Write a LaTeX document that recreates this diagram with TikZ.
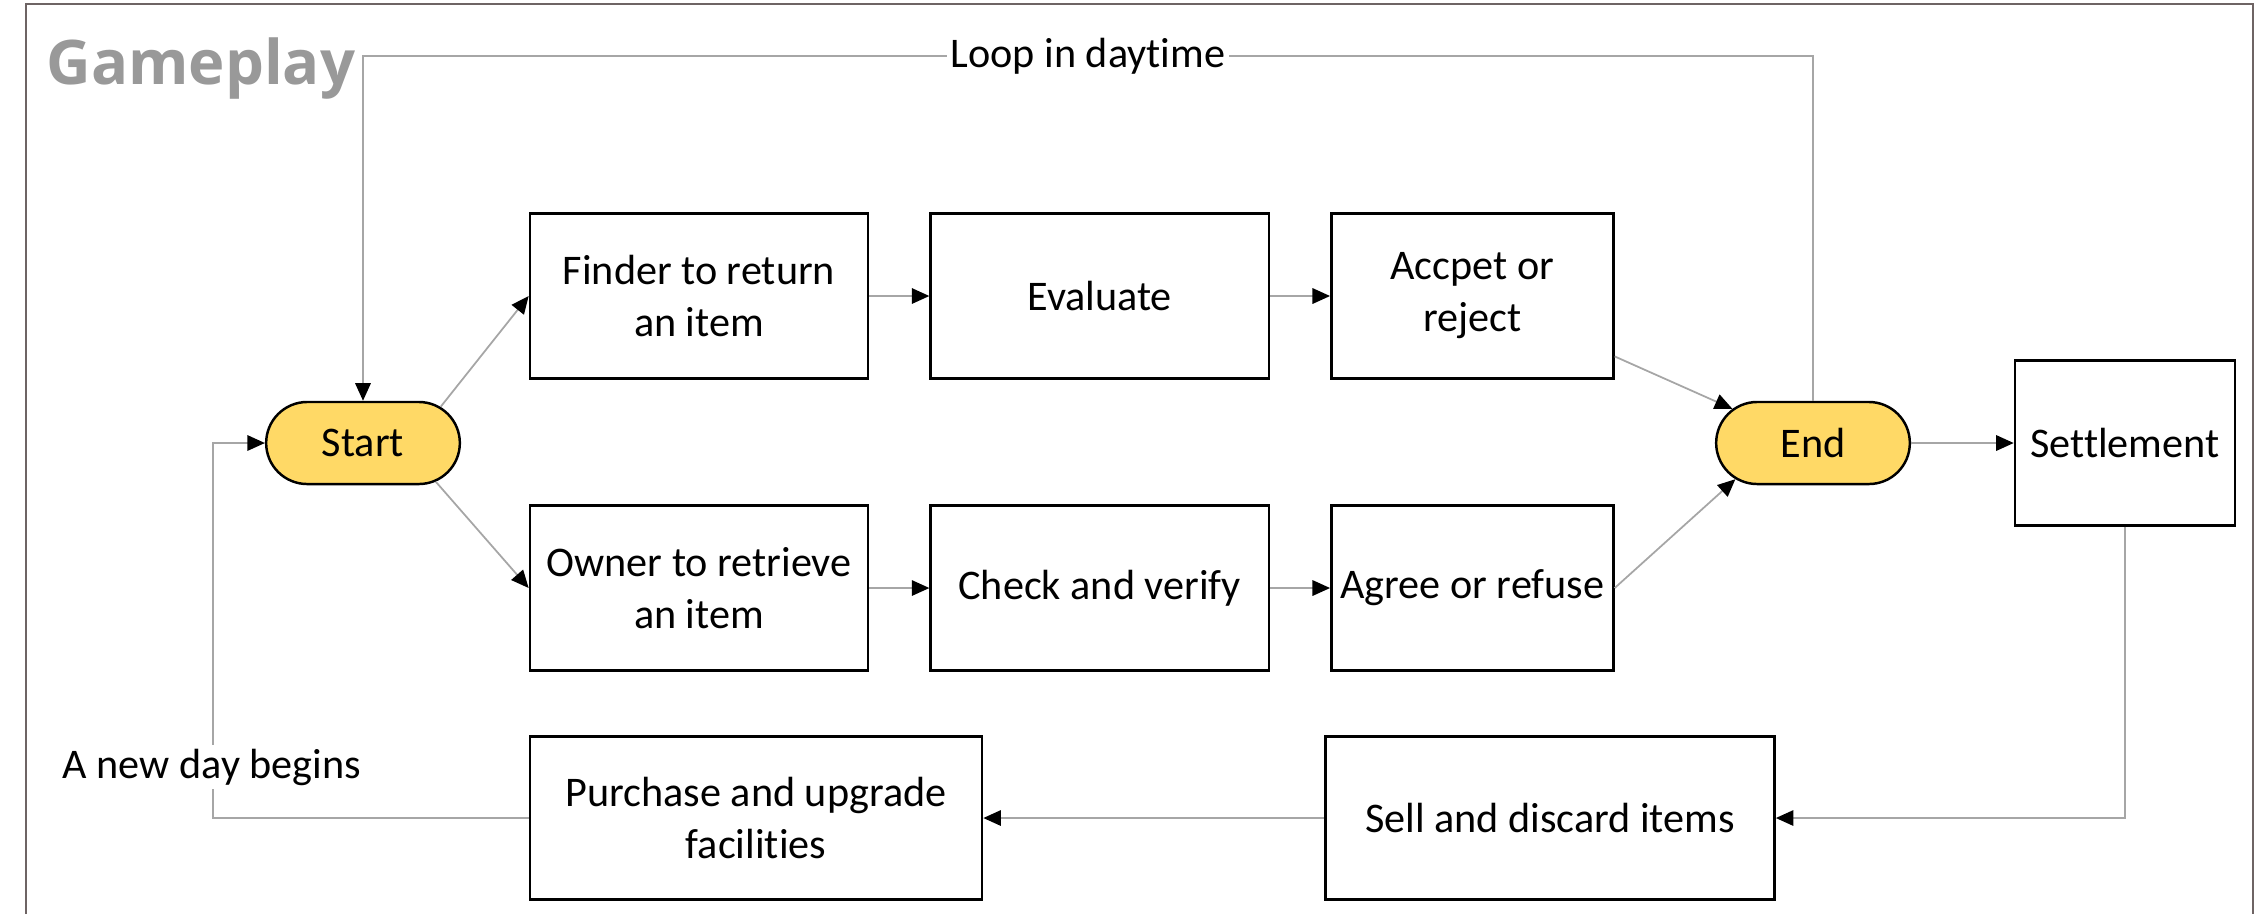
\documentclass[tikz,border=0pt]{standalone}
\usepackage{fontspec}
\setmainfont{Carlito}[Ligatures=NoCommon]
\newfontfamily\titlefont{Open Sans}
\usetikzlibrary{positioning}
\usetikzlibrary{shapes.misc}
\usetikzlibrary{arrows.meta}
\definecolor{startyellow}{HTML}{FFD966}
\definecolor{linegray}{HTML}{A6A6A6}
\definecolor{titlegray}{HTML}{999999}
\definecolor{framegray}{HTML}{6E6464}

\begin{document}
\begin{tikzpicture}[x=0.01cm,y=-0.01cm,node distance=0.6cm,font=\fontsize{12}{14.8}\selectfont]
  \tikzstyle{terminal}=[rounded rectangle, draw=black, line width=0.7pt, fill=startyellow, minimum width=2.17cm, minimum height=0.82cm ]
  \tikzstyle{process}=[rectangle, draw=black, line width=0.7pt, align=center, inner sep=2pt, minimum width=3.38cm, minimum height=1.65cm ]
  \tikzstyle{flow}=[draw=linegray, line width=0.5pt, -{Triangle[color=black,length=5pt,width=4.4pt]} ]
  \tikzstyle{loopnote}=[fill=white, inner sep=1pt ]

  \useasboundingbox (0,0) rectangle (2257,914);
  \draw[framegray, line width=0.6pt] (26,914) -- (26,4) -- (2253,4) -- (2253,914);
  \node[anchor=base west, inner sep=0pt, text=titlegray, font=\titlefont\bfseries\fontsize{17.5}{21}\selectfont] (title) at (46,84) {Gameplay};

  \node[terminal]                                  (start)    at (363,443)  {Start};
  \node[process]                                   (finder)   at (699,296)  {Finder to return\\an item};
  \node[process, right=of finder]                  (evaluate)               {Evaluate};
  \node[process, minimum width=2.82cm, right=of evaluate] (accept)          {Accpet or\\reject};
  \node[process]                                   (owner)    at (699,588)  {Owner to retrieve\\an item};
  \node[process, right=of owner]                   (check)                  {Check and verify};
  \node[process, minimum width=2.82cm, right=of check]    (agree)           {Agree or refuse};
  \node[terminal]                                  (end)      at (1813,443) {End};
  \node[process, minimum width=2.2cm]              (settle)   at (2125,443) {Settlement};
  \node[process, minimum width=4.49cm, minimum height=1.63cm] (sell)     at (1550,818) {Sell and discard items};
  \node[process, minimum width=4.52cm, minimum height=1.63cm] (purchase) at (756,818)  {Purchase and upgrade\\facilities};

  \coordinate (dayturn) at (213,443);

  \draw[flow] (start.25) -- (finder.west);
  \draw[flow] (start.-28) -- (owner.west);
  \draw[flow] (finder) -- (evaluate);
  \draw[flow] (evaluate) -- (accept);
  \draw[flow] (owner) -- (check);
  \draw[flow] (check) -- (agree);
  \draw[flow] (accept.-23) -- (end.157);
  \draw[flow] (agree.east) -- (end.205);
  \draw[flow] (end) -- (settle);
  \draw[flow] (settle.south) |- (sell.east);
  \draw[flow] (sell) -- (purchase);
  \draw[flow] (end.north) -- ++(0,-345) -| node[pos=0.25, loopnote] (loop) {Loop in daytime} (start.north);
  \draw[flow] (purchase.west) -| (dayturn) -- (start.west);
  \node[loopnote] (newday) at (212,767) {A new day begins};
\end{tikzpicture}
\end{document}
